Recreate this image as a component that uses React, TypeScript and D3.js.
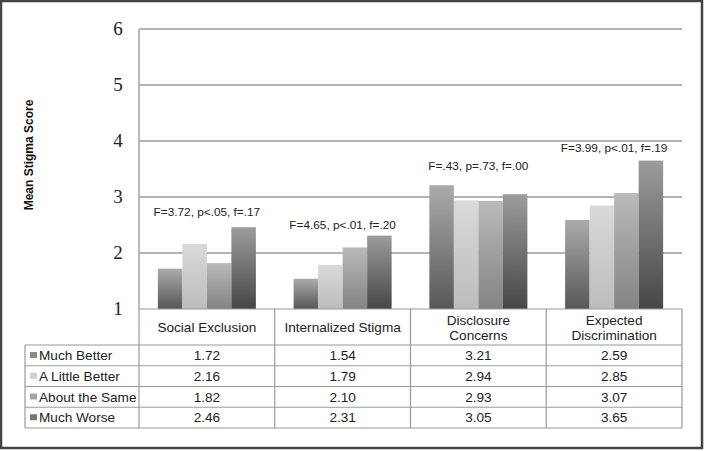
import React from "react";
import * as d3 from "d3";

const categories = ["Social Exclusion", "Internalized Stigma", "Disclosure Concerns", "Expected Discrimination"];
const categoryLines = [["Social Exclusion"], ["Internalized Stigma"], ["Disclosure", "Concerns"], ["Expected", "Discrimination"]];
const seriesNames = ["Much Better", "A Little Better", "About the Same", "Much Worse"];
const muchBetter = [1.72, 1.54, 3.21, 2.59];
const aLittleBetter = [2.16, 1.79, 2.94, 2.85];
const aboutTheSame = [1.82, 2.10, 2.93, 3.07];
const muchWorse = [2.46, 2.31, 3.05, 3.65];
const seriesValues = [muchBetter, aLittleBetter, aboutTheSame, muchWorse];
const valueLabels = [
  ["1.72", "1.54", "3.21", "2.59"],
  ["2.16", "1.79", "2.94", "2.85"],
  ["1.82", "2.10", "2.93", "3.07"],
  ["2.46", "2.31", "3.05", "3.65"],
];
const annotations = ["F=3.72, p<.05, f=.17", "F=4.65, p<.01, f=.20", "F=.43, p=.73, f=.00", "F=3.99, p<.01, f=.19"];
const annotationValue = [2.73, 2.5, 3.55, 3.87];
const yTicks = [1, 2, 3, 4, 5, 6];

const gradTop = ["#ababab", "#dadada", "#bababa", "#9c9c9c"];
const gradBottom = ["#575757", "#bcbcbc", "#838383", "#464646"];
const swatch = ["#8a8a8a", "#d0d0d0", "#a6a6a6", "#777777"];

export default function App() {
  const W = 705, H = 451;
  const left = 139, right = 682, top = 29, bottom = 309;
  const y = d3.scaleLinear().domain([1, 6]).range([bottom, top]);
  const x0 = d3.scaleBand<string>().domain(categories).range([left, right]).paddingInner(0).paddingOuter(0);
  const x1 = d3.scaleBand<string>().domain(seriesNames).range([0, x0.bandwidth()]).paddingInner(0).paddingOuter(0.77);
  const rowTop = 345;
  const rowH = 20.75;
  const tableLeft = 25;
  const sans = "'Liberation Sans', Arial, sans-serif";
  const gridColor = "#b3b3b3";
  const tableColor = "#9a9a9a";
  const tableFont = 13.6;

  return (
    <svg width={W} height={H} style={{ display: "block", position: "absolute", left: 0, top: 0 }}>
      <defs>
        {seriesNames.map((s, i) => (
          <linearGradient key={s} id={`g${i}`} x1="0" y1="0" x2="0" y2="1">
            <stop offset="0%" stopColor={gradTop[i]} />
            <stop offset="100%" stopColor={gradBottom[i]} />
          </linearGradient>
        ))}
      </defs>
      <rect x={0} y={0} width={W} height={H} fill="#fff" />
      <rect x={1} y={1} width={701} height={447} fill="none" stroke="#444" strokeWidth={2.5} />

      {yTicks.filter((t) => t > 1).map((t) => (
        <line key={t} x1={left} x2={right} y1={y(t)} y2={y(t)} stroke={gridColor} strokeWidth={1.8} />
      ))}
      <line x1={left} x2={left} y1={top} y2={bottom} stroke={gridColor} strokeWidth={1.8} />
      {yTicks.map((t) => (
        <text key={t} x={118} y={y(t) + 6} textAnchor="middle" fontFamily="'Liberation Serif', 'DejaVu Serif', serif" fontSize={19} fill="#222">
          {t}
        </text>
      ))}
      <text
        transform={`translate(33,${155}) rotate(-90)`}
        textAnchor="middle"
        fontFamily={sans}
        fontWeight="bold"
        fontSize={12}
        fill="#111"
      >
        Mean Stigma Score
      </text>

      {categories.map((c, ci) => (
        <g key={c} transform={`translate(${x0(c)},0)`}>
          {seriesNames.map((s, si) => {
            const v = seriesValues[si][ci];
            return (
              <rect
                key={s}
                x={x1(s)}
                y={y(v)}
                width={x1.bandwidth()}
                height={y(1) - y(v)}
                fill={`url(#g${si})`}
              />
            );
          })}
          <text x={x0.bandwidth() / 2} y={y(annotationValue[ci]) + 4} textAnchor="middle" fontFamily={sans} fontSize={11.8} fill="#222">
            {annotations[ci]}
          </text>
        </g>
      ))}

      {/* table */}
      <line x1={left} x2={right} y1={bottom} y2={bottom} stroke={tableColor} strokeWidth={1.2} />
      {[0, 1, 2, 3, 4].map((k) => (
        <line key={k} x1={x0.range()[0] + k * x0.bandwidth()} x2={x0.range()[0] + k * x0.bandwidth()} y1={bottom} y2={rowTop + 4 * rowH} stroke={tableColor} strokeWidth={1.2} />
      ))}
      <line x1={tableLeft} x2={tableLeft} y1={rowTop} y2={rowTop + 4 * rowH} stroke={tableColor} strokeWidth={1.2} />
      {[0, 1, 2, 3, 4].map((r) => (
        <line key={r} x1={tableLeft} x2={right} y1={rowTop + r * rowH} y2={rowTop + r * rowH} stroke={tableColor} strokeWidth={1.2} />
      ))}
      {categories.map((c, ci) => {
        const lines = categoryLines[ci];
        const cx = (x0(c) as number) + x0.bandwidth() / 2;
        const startY = lines.length === 1 ? 332 : 325;
        return (
          <text key={c} textAnchor="middle" fontFamily={sans} fontSize={tableFont} fill="#222">
            {lines.map((l, li) => (
              <tspan key={li} x={cx} y={startY + li * 15}>
                {l}
              </tspan>
            ))}
          </text>
        );
      })}
      {seriesNames.map((s, si) => {
        const ry = rowTop + si * rowH;
        return (
          <g key={s}>
            <rect x={30} y={ry + 7} width={7} height={6} fill={swatch[si]} />
            <text x={39} y={ry + 15} fontFamily={sans} fontSize={tableFont} fill="#222">
              {s}
            </text>
            {categories.map((c, ci) => (
              <text key={c} x={(x0(c) as number) + x0.bandwidth() / 2} y={ry + 15} textAnchor="middle" fontFamily={sans} fontSize={tableFont} fill="#222">
                {valueLabels[si][ci]}
              </text>
            ))}
          </g>
        );
      })}
    </svg>
  );
}
